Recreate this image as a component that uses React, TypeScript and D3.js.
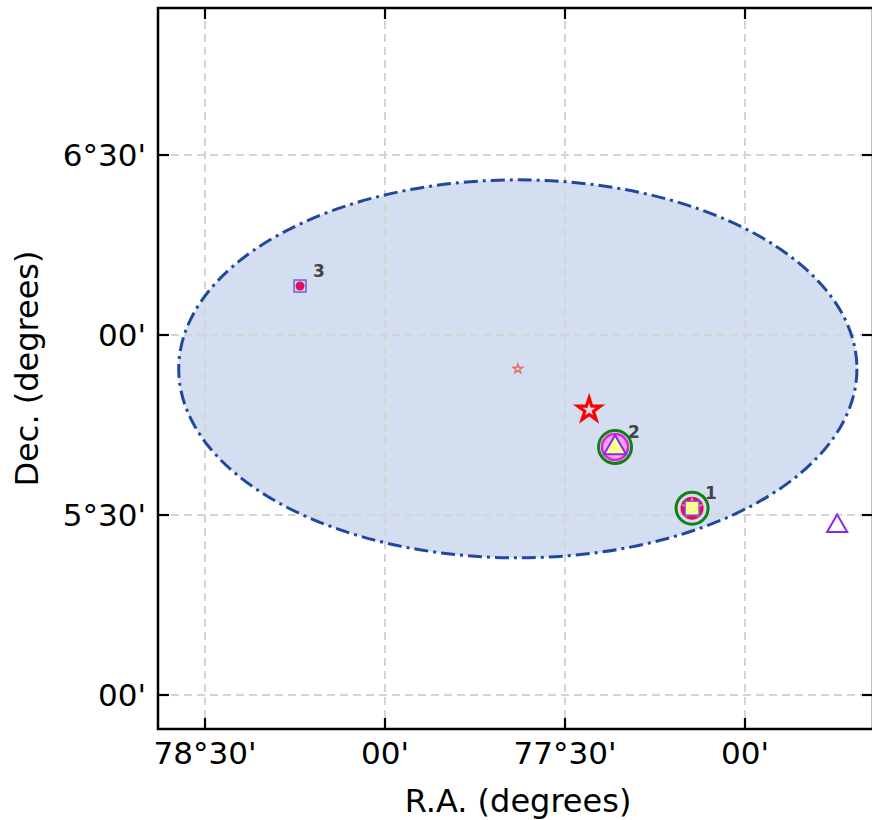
import React from "react";
import * as d3 from "d3";

const xTickValues = [78.5, 78.0, 77.5, 77.0];
const xTickLabels = ["78°30'", "00'", "77°30'", "00'"];
const yTickValues = [6.5, 6.0, 5.5, 5.0];
const yTickLabels = ["6°30'", "00'", "5°30'", "00'"];

const ellipseCenter = [77.631, 5.906];
const ellipseSemiAxes = [0.942, 0.525];

const numberedNames = ["1", "2", "3"];
const numberedRA = [77.147, 77.361, 78.236];
const numberedDec = [5.519, 5.689, 6.136];

const starsRA = [77.631, 77.433];
const starsDec = [5.906, 5.792];

const triangleRA = [76.744];
const triangleDec = [5.472];

const W = 872;
const H = 820;
const FONT = "DejaVu Sans, sans-serif";

export default function App() {
  const x = d3.scaleLinear().domain([78.5, 77.0]).range([205, 745]);
  const y = d3.scaleLinear().domain([6.5, 5.0]).range([155, 695]);
  const left = 158, right = 873, top = 8, bottom = 729;
  const tick = 11;

  const starBig = d3.symbol(d3.symbolStar, 160)();
  const starSmall = d3.symbol(d3.symbolStar, 28)();
  const starMid = d3.symbol(d3.symbolStar, 150)();
  const tri = d3.symbol(d3.symbolTriangle, 210)();
  const triSmall = d3.symbol(d3.symbolTriangle, 175)();

  const ecx = x(ellipseCenter[0]);
  const ecy = y(ellipseCenter[1]);
  const erx = Math.abs(x(ellipseCenter[0] + ellipseSemiAxes[0]) - ecx);
  const ery = Math.abs(y(ellipseCenter[1] + ellipseSemiAxes[1]) - ecy);

  return (
    <svg width={W} height={H} style={{ position: "absolute", left: 0, top: 0 }} fontFamily={FONT}>
      <rect x={0} y={0} width={W} height={H} fill="#fff" />
      <defs>
        <clipPath id="plot">
          <rect x={left} y={top} width={right - left} height={bottom - top} />
        </clipPath>
      </defs>
      <g clipPath="url(#plot)">
        <ellipse cx={ecx} cy={ecy} rx={erx} ry={ery} fill="#d3dff0" stroke="none" />
        {xTickValues.map((v, i) => (
          <line key={"gx" + i} x1={x(v)} x2={x(v)} y1={top} y2={bottom} stroke="#d4d4d4" strokeWidth={2} strokeDasharray="8,5" />
        ))}
        {yTickValues.map((v, i) => (
          <line key={"gy" + i} y1={y(v)} y2={y(v)} x1={left} x2={right} stroke="#d4d4d4" strokeWidth={2} strokeDasharray="8,5" />
        ))}
        <ellipse cx={ecx} cy={ecy} rx={erx} ry={ery} fill="none" stroke="#2148a0" strokeWidth={3} strokeDasharray="14,5,3,5" />

        {/* source 3 */}
        <rect x={x(numberedRA[2]) - 6} y={y(numberedDec[2]) - 6} width={12} height={12} fill="#d8d0f0" stroke="#7060d0" strokeWidth={1.5} />
        <circle cx={x(numberedRA[2])} cy={y(numberedDec[2])} r={4.5} fill="#e0105a" />

        {/* stars */}
        <path d={starSmall} transform={`translate(${x(starsRA[0])},${y(starsDec[0])})`} fill="none" stroke="#f06060" strokeWidth={1.3} />
        <path d={starBig} transform={`translate(${x(starsRA[1])},${y(starsDec[1])})`} fill="none" stroke="#ff0000" strokeWidth={3.2} strokeLinejoin="miter" />

        {/* source 2 */}
        <circle cx={x(numberedRA[1])} cy={y(numberedDec[1])} r={16.5} fill="none" stroke="#138013" strokeWidth={3} />
        <circle cx={x(numberedRA[1])} cy={y(numberedDec[1])} r={13} fill="#f0a8f0" stroke="#e020e0" strokeWidth={2.5} />
        <path d={tri} transform={`translate(${x(numberedRA[1])},${y(numberedDec[1]) + 1})`} fill="#ffff90" stroke="#8030e0" strokeWidth={2} />

        {/* source 1 */}
        <circle cx={x(numberedRA[0])} cy={y(numberedDec[0])} r={16} fill="none" stroke="#138013" strokeWidth={3} />
        <circle cx={x(numberedRA[0])} cy={y(numberedDec[0])} r={11.5} fill="#e01060" stroke="none" />
        <path d={starMid} transform={`translate(${x(numberedRA[0])},${y(numberedDec[0])})`} fill="#f5a0c0" stroke="none" />
        <rect x={x(numberedRA[0]) - 7} y={y(numberedDec[0]) - 7} width={14} height={14} fill="#ffff90" stroke="#8050e0" strokeWidth={1.5} />

        {/* triangle outside */}
        <path d={triSmall} transform={`translate(${x(triangleRA[0])},${y(triangleDec[0]) + 1})`} fill="none" stroke="#8a2be2" strokeWidth={2} />

        {numberedNames.map((n, i) => (
          <text key={"n" + i} x={x(numberedRA[i]) + 13} y={y(numberedDec[i]) - 9} fontSize={17} fontWeight="bold" fill="#444">{n}</text>
        ))}
      </g>

      {/* ticks */}
      {xTickValues.map((v, i) => (
        <g key={"tx" + i}>
          <line x1={x(v)} x2={x(v)} y1={bottom} y2={bottom - tick} stroke="#000" strokeWidth={2.2} />
          <line x1={x(v)} x2={x(v)} y1={top} y2={top + tick} stroke="#000" strokeWidth={2.2} />
          <text x={x(v)} y={bottom + 35} textAnchor="middle" fontSize={31} fill="#000">{xTickLabels[i]}</text>
        </g>
      ))}
      {yTickValues.map((v, i) => (
        <g key={"ty" + i}>
          <line y1={y(v)} y2={y(v)} x1={left} x2={left + tick} stroke="#000" strokeWidth={2.2} />
          <line y1={y(v)} y2={y(v)} x1={right} x2={right - tick} stroke="#000" strokeWidth={2.2} />
          <text x={left - 12} y={y(v)} dy="0.36em" textAnchor="end" fontSize={31} fill="#000">{yTickLabels[i]}</text>
        </g>
      ))}

      {/* spines */}
      <rect x={left} y={top} width={right - left} height={bottom - top} fill="none" stroke="#000" strokeWidth={2.5} />

      <text x={518} y={812} textAnchor="middle" fontSize={32} fill="#000">R.A. (degrees)</text>
      <text transform={`translate(38,${(top + bottom) / 2}) rotate(-90)`} textAnchor="middle" fontSize={32} fill="#000">Dec. (degrees)</text>
    </svg>
  );
}
